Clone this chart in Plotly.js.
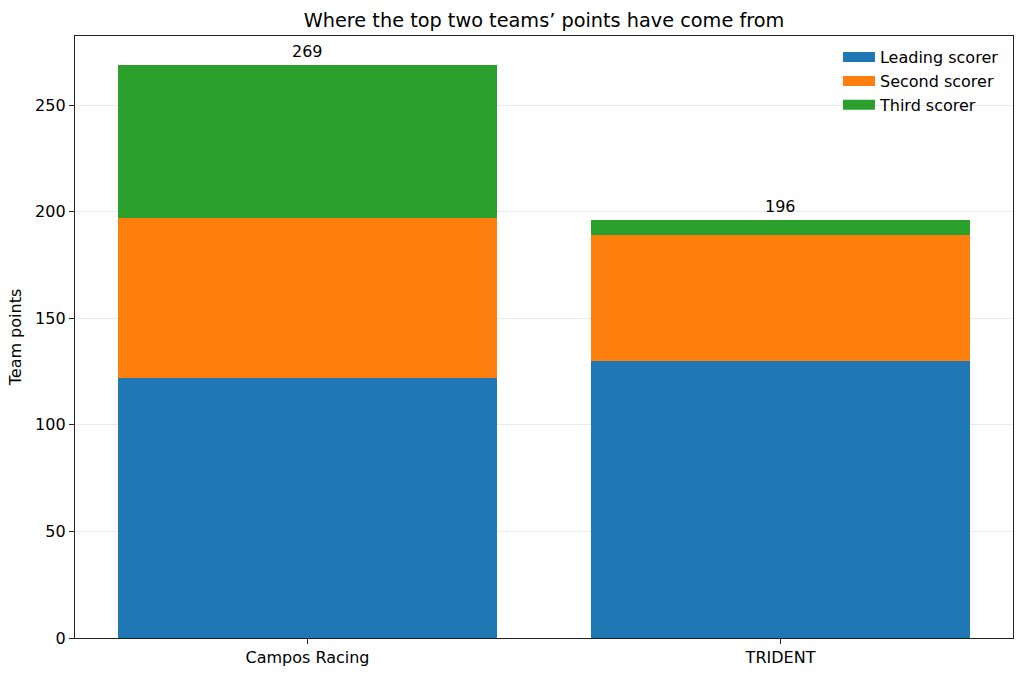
<!DOCTYPE html>
<html>
<head>
<meta charset="utf-8">
<script src="https://cdn.plot.ly/plotly-3.0.1.min.js"></script>
<style>html,body{margin:0;padding:0;background:#fff;}#chart{width:1024px;height:677px;}</style>
</head>
<body>
<div id="chart"></div>
<script>
const teams = ["Campos Racing", "TRIDENT"];
const seriesNames = ["Leading scorer", "Second scorer", "Third scorer"];
const leading = [122, 130];
const second = [75, 59];
const third = [72, 7];
const colors = ["#1f77b4", "#ff7f0e", "#2ca02c"];

const seriesValues = [leading, second, third];
const totals = teams.map((t, i) => leading[i] + second[i] + third[i]);

const font = "DejaVu Sans, sans-serif";
const traces = seriesValues.map((vals, k) => ({
  type: "bar",
  name: seriesNames[k],
  legendgroup: "g" + k,
  showlegend: false,
  x: teams,
  y: vals,
  marker: {color: colors[k], line: {width: 0}},
  width: 0.8,
  hoverinfo: "skip"
}));
// legend-only entries drawn as wide patches like the reference
seriesNames.forEach((n, k) => traces.push({
  type: "scatter", mode: "lines", name: n, legendgroup: "g" + k,
  x: [null], y: [null],
  line: {color: colors[k], width: 10},
  hoverinfo: "skip"
}));

const annotations = teams.map((t, i) => ({
  x: t, y: totals[i], xref: "x", yref: "y",
  text: String(totals[i]), showarrow: false,
  yanchor: "bottom", yshift: 2,
  font: {family: font, size: 16, color: "#000"}
}));

const layout = {
  width: 1024, height: 677,
  margin: {l: 75, r: 11, t: 36, b: 39},
  paper_bgcolor: "#fff", plot_bgcolor: "#fff",
  barmode: "stack",
  bargap: 0.2,
  font: {family: font, size: 16, color: "#000"},
  title: {text: "Where the top two teams’ points have come from", xref: "paper", x: 0.5, xanchor: "center", y: 0.97, yanchor: "middle", font: {family: font, size: 19.3, color: "#000"}},
  xaxis: {
    type: "category", range: [-0.4915, 1.4915],
    showline: true, linecolor: "#222", linewidth: 1.2, mirror: true,
    ticks: "outside", ticklen: 5, tickcolor: "#222",
    showgrid: false, zeroline: false,
    tickfont: {family: font, size: 16, color: "#000"}
  },
  yaxis: {
    range: [0, 282.45], tickvals: [0, 50, 100, 150, 200, 250],
    showline: true, linecolor: "#222", linewidth: 1.2, mirror: true,
    ticks: "outside", ticklen: 5, tickcolor: "#222",
    showgrid: true, gridcolor: "rgba(128,128,128,0.16)", gridwidth: 1,
    zeroline: false, layer: "above traces",
    tickfont: {family: font, size: 16, color: "#000"},
    title: {text: "Team points", standoff: 9, font: {family: font, size: 16, color: "#000"}}
  },
  legend: {
    x: 0.8134, xanchor: "left", y: 0.993, yanchor: "top",
    bgcolor: "rgba(255,255,255,0)", borderwidth: 0,
    font: {family: font, size: 16, color: "#000"},
    traceorder: "normal", itemwidth: 32
  },
  annotations: annotations,
  showlegend: true
};

Plotly.newPlot("chart", traces, layout, {displayModeBar: false, staticPlot: true});
</script>
</body>
</html>
